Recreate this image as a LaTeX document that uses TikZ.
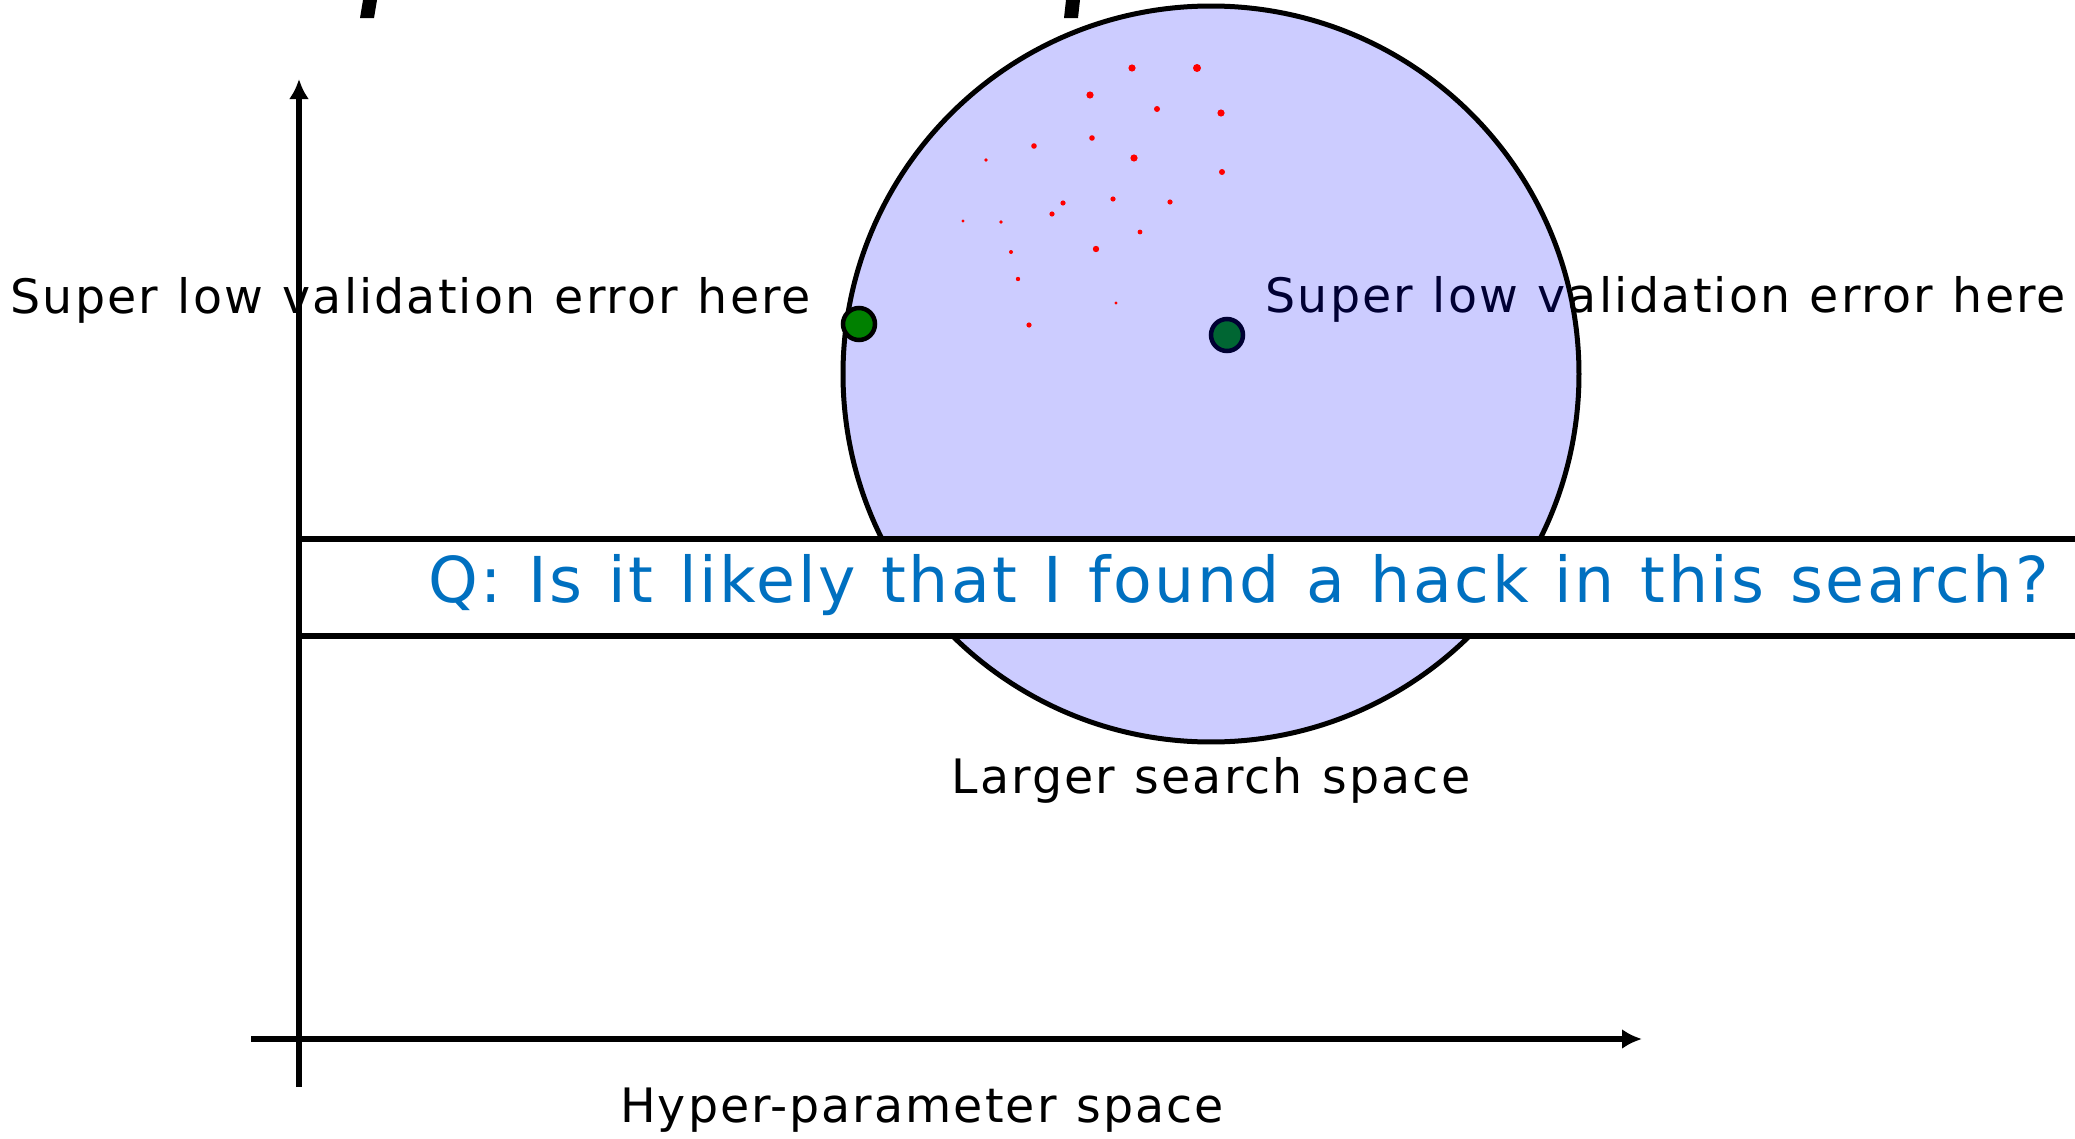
\documentclass[tikz,border=0pt]{standalone}
\usepackage{fontspec}
\usetikzlibrary{arrows.meta}
\newfontfamily\labelfont{DejaVu Sans}[LetterSpace=4.4,WordSpace=1.15]
\newfontfamily\askfont{DejaVu Sans}[LetterSpace=4,WordSpace=1.15]
\definecolor{askblue}{HTML}{0070C0}
\definecolor{dotgreen}{HTML}{008000}
\begin{document}
\begin{tikzpicture}[x=0.1mm,y=-0.1mm,
	axis/.style={line width=0.6mm,-{Latex[length=2mm,width=2mm]}},
	lbl/.style={inner sep=0pt,font=\labelfont\fontsize{13.5}{16}\selectfont},
	dot/.style={circle,draw=black,line width=0.45mm,fill=dotgreen,minimum size=3.2mm,inner sep=0pt}]
\useasboundingbox (0,0) rectangle (2075,1139);
\clip (0,0) rectangle (2075,1139);
% cut-off glyphs at the top
\fill (363,0) -- (377,0) -- (374,18) -- (360,18) -- cycle;
\fill (1066,0) -- (1080,0) -- (1078,18) -- (1064,18) -- cycle;
\node[lbl,anchor=base west] (lowleft) at (10,313) {Super low validation error here};
\node[lbl,anchor=base west] (lowright) at (1265,312) {Super low validation error here};
\node[dot] (found) at (1227,335) {};
% search space
\fill[blue,fill opacity=0.2] (1211,374) circle[radius=36.8mm];
\draw[line width=0.5mm] (1211,374) circle[radius=36.8mm];
\foreach \x / \y / \r in {1132/68/3.6, 1197/68/4, 1090/95/3.6, 1157/109/3, 1221/113/3.6,
	1092/138/2.8, 1034/146/2.8, 986/160/1.8, 1134/158/3.6, 1222/172/3,
	1063/203/2.6, 1113/199/2.6, 1170/202/2.6, 1052/214/2.6, 963/221/1.6,
	1001/222/1.8, 1140/232/2.4, 1096/249/3.2, 1011/252/2, 1018/279/2.2,
	1116/303/1.6, 1029/325/2.6}
	\fill[red] (\x,\y) circle[radius=0.1mm*\r];
\node[dot] (edge) at (859,324) {};
\node[lbl,anchor=base] (space) at (1211,793) {Larger search space};
% question bar
\draw[line width=0.55mm,fill=white] (299,539) rectangle (2100,636);
\node[inner sep=0pt,anchor=base west,text=askblue,font=\askfont\fontsize{18}{21}\selectfont]
	(ask) at (428,602) {Q: Is it likely that I found a hack in this search?};
% axes
\coordinate (ybot) at (299,1087);
\coordinate (ytop) at (299,79);
\coordinate (xleft) at (251,1039);
\coordinate (xright) at (1642,1039);
\draw[axis] (ybot) -- (ytop);
\draw[axis] (xleft) -- (xright);
\node[lbl,anchor=base] (hyper) at (922,1122) {Hyper-parameter space};
\end{tikzpicture}
\end{document}
